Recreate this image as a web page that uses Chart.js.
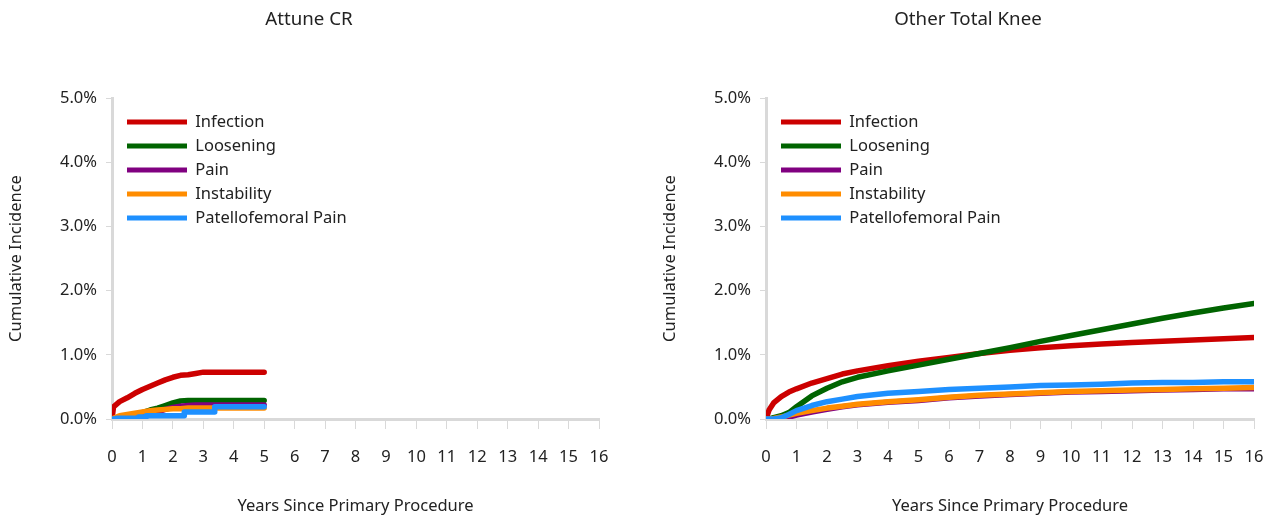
<!DOCTYPE html>
<html>
<head>
<meta charset="utf-8">
<script src="https://cdn.jsdelivr.net/npm/chart.js@4.4.1/dist/chart.umd.min.js"></script>
<style>
  body { margin: 0; background: #fff; }
  .box { position: absolute; top: 0; height: 523px; }
  #leftBox { left: 0; width: 618px; }
  #rightBox { left: 661px; width: 612px; }
</style>
</head>
<body>
<div class="box" id="leftBox"><canvas id="attuneChart" width="618" height="523"></canvas></div>
<div class="box" id="rightBox"><canvas id="otherChart" width="612" height="523"></canvas></div>
<script>
// ===== DATA =====
const seriesNames = ["Infection", "Loosening", "Pain", "Instability", "Patellofemoral Pain"];
const seriesColors = ["#cc0000", "#006400", "#800080", "#ff8c00", "#1e90ff"];
const yTicks = [0, 1, 2, 3, 4, 5];

// Attune CR (cumulative incidence, %)
const attuneYears = [0, 0.05, 0.25, 0.5, 0.75, 1, 1.25, 1.5, 1.75, 2, 2.25, 2.5, 2.75, 3, 3.25, 3.5, 3.75, 4, 4.25, 4.5, 4.75, 5];
const attuneInfection = [0, 0.19, 0.27, 0.33, 0.40, 0.46, 0.51, 0.56, 0.61, 0.65, 0.68, 0.69, 0.71, 0.73, 0.73, 0.73, 0.73, 0.73, 0.73, 0.73, 0.73, 0.73];
const attuneLoosening = [0, 0, 0.02, 0.04, 0.07, 0.10, 0.14, 0.17, 0.21, 0.25, 0.28, 0.29, 0.29, 0.29, 0.29, 0.29, 0.29, 0.29, 0.29, 0.29, 0.29, 0.29];
const attunePain = [0, 0, 0.01, 0.02, 0.03, 0.05, 0.08, 0.11, 0.15, 0.18, 0.20, 0.21, 0.22, 0.22, 0.22, 0.22, 0.22, 0.22, 0.22, 0.22, 0.22, 0.22];
const attuneInstability = [0, 0.01, 0.05, 0.07, 0.09, 0.11, 0.13, 0.14, 0.15, 0.16, 0.16, 0.17, 0.17, 0.17, 0.17, 0.17, 0.17, 0.17, 0.17, 0.17, 0.17, 0.17];
const attunePatello = [0, 0, 0.01, 0.01, 0.01, 0.03, 0.05, 0.05, 0.05, 0.05, 0.05, 0.11, 0.11, 0.11, 0.11, 0.19, 0.19, 0.19, 0.19, 0.19, 0.19, 0.19];

// Other Total Knee (cumulative incidence, %)
const otherYears = [0, 0.1, 0.25, 0.5, 0.75, 1, 1.5, 2, 2.5, 3, 4, 5, 6, 7, 8, 9, 10, 11, 12, 13, 14, 15, 16];
const otherInfection = [0, 0.14, 0.25, 0.35, 0.42, 0.47, 0.56, 0.63, 0.70, 0.75, 0.83, 0.90, 0.96, 1.02, 1.07, 1.11, 1.14, 1.17, 1.19, 1.21, 1.23, 1.25, 1.27];
const otherLoosening = [0, 0, 0.02, 0.05, 0.10, 0.19, 0.36, 0.48, 0.58, 0.65, 0.75, 0.84, 0.93, 1.02, 1.11, 1.21, 1.30, 1.39, 1.48, 1.57, 1.65, 1.73, 1.80];
const otherPain = [0, 0, 0, 0.01, 0.03, 0.06, 0.11, 0.15, 0.19, 0.22, 0.26, 0.29, 0.33, 0.36, 0.38, 0.40, 0.42, 0.43, 0.44, 0.45, 0.46, 0.47, 0.47];
const otherInstability = [0, 0, 0.01, 0.03, 0.06, 0.09, 0.13, 0.17, 0.20, 0.23, 0.27, 0.30, 0.34, 0.37, 0.39, 0.41, 0.43, 0.44, 0.45, 0.46, 0.47, 0.48, 0.49];
const otherPatello = [0, 0, 0, 0.02, 0.07, 0.13, 0.21, 0.27, 0.31, 0.35, 0.40, 0.43, 0.46, 0.48, 0.50, 0.52, 0.53, 0.54, 0.56, 0.57, 0.57, 0.58, 0.58];

// ===== CHARTS =====
Chart.defaults.font.family = '"Noto Sans", sans-serif';
Chart.defaults.color = "#222";

const axisGray = "#d9d9d9";
const textSize = 16.5;

// the in-plot legend: keep it inside the plot, a bit in from the corner
const legendNudge = {
  id: "legendNudge",
  afterLayout(chart) {
    const lg = chart.legend;
    if (!lg) return;
    const area = chart.chartArea;
    lg.left = area.left + 7.5;
    lg.top = area.top + 8.25;
    lg.bottom = area.bottom;
  },
};

function buildChart(canvasId, title, years, values, stepModes, pad, yWidth, yTitlePad) {
  const ctx = document.getElementById(canvasId);
  const datasets = values.map((vals, i) => ({
    label: seriesNames[i],
    data: years.map((yr, j) => ({ x: yr, y: vals[j] })),
    borderColor: seriesColors[i],
    backgroundColor: seriesColors[i],
    borderWidth: 5.5,
    borderCapStyle: "round",
    borderJoinStyle: "round",
    pointRadius: 0,
    tension: 0,
    stepped: stepModes[i],
    order: values.length - i, // last series drawn on top
  }));

  return new Chart(ctx, {
    type: "line",
    data: { datasets: datasets },
    plugins: [legendNudge],
    options: {
      responsive: false,
      animation: false,
      layout: { padding: { left: pad.left, right: pad.right, top: 0, bottom: 0 } },
      plugins: {
        title: {
          display: true,
          text: title,
          font: { size: 18.7, weight: "normal" },
          padding: { top: 8.8, bottom: 66.8 },
        },
        legend: {
          position: "chartArea",
          align: "start",
          labels: {
            boxWidth: 60,
            boxHeight: 5,
            padding: 7.5,
            font: { size: textSize },
            generateLabels(chart) {
              return Chart.defaults.plugins.legend.labels
                .generateLabels(chart)
                .map((l) => ({ ...l, lineWidth: 0 }))
                .sort((a, b) => a.datasetIndex - b.datasetIndex);
            },
          },
        },
        tooltip: { enabled: false },
      },
      scales: {
        x: {
          type: "linear",
          min: 0,
          max: 16,
          // tick padding would otherwise be added to the right-hand margin
          afterFit(scale) {
            scale.paddingRight = 0;
          },
          ticks: { stepSize: 1, padding: 18, font: { size: textSize } },
          grid: { drawOnChartArea: false, drawTicks: true, tickLength: 10, tickColor: axisGray, tickWidth: 1 },
          border: { color: axisGray, width: 3 },
          title: {
            display: true,
            text: "Years Since Primary Procedure",
            font: { size: textSize },
            padding: { top: 11.4, bottom: 7 },
          },
        },
        y: {
          type: "linear",
          min: yTicks[0],
          max: yTicks[yTicks.length - 1],
          afterBuildTicks(scale) {
            scale.ticks = yTicks.map((v) => ({ value: v }));
          },
          afterFit(scale) {
            scale.width = yWidth;
          },
          ticks: {
            padding: 9,
            font: { size: textSize },
            callback: (v) => v.toFixed(1) + "%",
          },
          grid: { drawOnChartArea: false, drawTicks: true, tickLength: 6, tickColor: axisGray, tickWidth: 1 },
          border: { color: axisGray, width: 3 },
          title: {
            display: true,
            text: "Cumulative Incidence",
            font: { size: textSize },
            padding: { top: yTitlePad, bottom: 0 },
          },
        },
      },
    },
  });
}

buildChart("attuneChart", "Attune CR",
  attuneYears,
  [attuneInfection, attuneLoosening, attunePain, attuneInstability, attunePatello],
  [false, false, false, false, "middle"],
  { left: 19, right: 19 }, 93, -12.9);

buildChart("otherChart", "Other Total Knee",
  otherYears,
  [otherInfection, otherLoosening, otherPain, otherInstability, otherPatello],
  [false, false, false, false, false],
  { left: 21, right: 19 }, 84, -21.9);
</script>
</body>
</html>
